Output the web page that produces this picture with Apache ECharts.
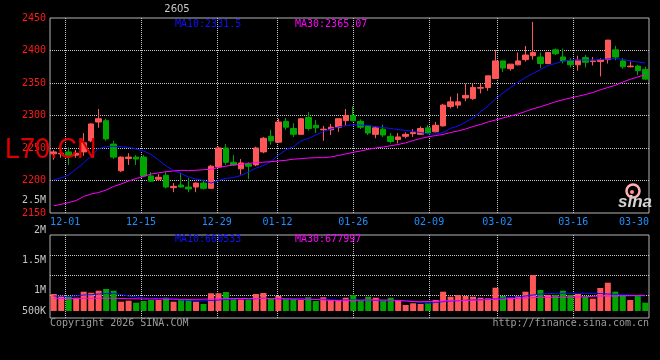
<!DOCTYPE html>
<html><head><meta charset="utf-8">
<script src="https://cdn.jsdelivr.net/npm/echarts@6/dist/echarts.min.js"></script>
<style>html,body{margin:0;padding:0;background:#000;}#c{width:660px;height:360px;}</style>
</head><body><div id="c"></div>
<script>
// ---- data ----
const dates = ['11-27','11-28',
 '12-01','12-02','12-03','12-04','12-05','12-08','12-09','12-10','12-11','12-12',
 '12-15','12-16','12-17','12-18','12-19','12-22','12-23','12-24','12-25','12-26',
 '12-29','12-30','12-31',
 '01-05','01-06','01-07','01-08','01-09','01-12','01-13','01-14','01-15','01-16',
 '01-19','01-20','01-21','01-22','01-23','01-26','01-27','01-28','01-29','01-30',
 '02-02','02-03','02-04','02-05','02-06','02-09','02-10','02-11','02-12','02-13',
 '02-24','02-25','02-26','02-27',
 '03-02','03-03','03-04','03-05','03-06','03-09','03-10','03-11','03-12','03-13',
 '03-16','03-17','03-18','03-19','03-20','03-23','03-24','03-25','03-26','03-27','03-30'];
const opens  = [2241,2241,2244,2239,2244,2261,2290,2292,2256,2215,2234,2236,2236,2207,2202,2208,2189,2193,2190,2190,2196,2188,2221,2250,2228,2218,2225,2224,2244,2268,2259,2291,2280,2271,2297,2285,2278,2278,2282,2292,2300,2291,2284,2271,2279,2268,2263,2268,2272,2271,2281,2275,2284,2314,2316,2327,2326,2342,2343,2357,2384,2372,2378,2386,2392,2390,2380,2401,2390,2384,2378,2389,2383,2383,2386,2401,2384,2375,2376,2371];
const closes = [2244,2242,2238,2242,2258,2287,2295,2264,2236,2236,2236,2233,2207,2199,2205,2190,2191,2190,2187,2196,2188,2222,2250,2228,2224,2227,2222,2250,2265,2261,2290,2282,2271,2295,2280,2281,2279,2282,2295,2300,2292,2282,2273,2281,2270,2260,2267,2271,2274,2280,2273,2285,2316,2321,2321,2331,2343,2343,2361,2384,2373,2379,2384,2393,2397,2380,2397,2395,2384,2378,2385,2382,2384,2386,2416,2390,2375,2376,2369,2356];
const lows   = [2232,2235,2224,2235,2238,2259,2281,2261,2233,2213,2224,2224,2206,2198,2199,2188,2182,2189,2182,2182,2186,2187,2219,2224,2223,2209,2202,2222,2242,2255,2258,2278,2267,2271,2277,2273,2261,2270,2275,2285,2291,2279,2270,2265,2267,2257,2257,2265,2267,2270,2272,2274,2283,2311,2311,2322,2324,2334,2338,2357,2367,2369,2377,2383,2386,2373,2379,2393,2380,2374,2369,2374,2377,2360,2380,2385,2372,2374,2362,2355];
const highs  = [2247,2251,2251,2247,2273,2288,2310,2295,2261,2237,2242,2239,2239,2213,2210,2213,2196,2212,2204,2197,2201,2224,2252,2256,2239,2233,2228,2252,2267,2278,2295,2296,2288,2296,2305,2293,2284,2287,2295,2310,2314,2294,2285,2283,2286,2273,2273,2274,2279,2283,2285,2290,2318,2329,2334,2349,2349,2349,2361,2401,2384,2379,2397,2407,2444,2397,2397,2403,2403,2388,2392,2393,2390,2388,2416,2407,2388,2383,2378,2375];
const ma10 = [2201,2204,2208.5,2217.7,2227,2238,2249,2252,2252.3,2252,2251,2248.5,2245.4,2240,2231.5,2222.3,2215.4,2210.8,2205.4,2202.3,2200,2196,2200,2203.4,2204.6,2207.7,2213,2219,2223,2229,2239,2247,2252,2260.8,2264.6,2270,2275.4,2279.2,2282.3,2284.6,2285.4,2285.4,2284.6,2282.8,2281.5,2280,2278.5,2276.9,2275.7,2273.8,2271.5,2271.5,2273.8,2280.3,2283.8,2290,2296.2,2305.4,2314.6,2325.4,2334.6,2343.1,2350.8,2358.5,2364.6,2370.8,2376.9,2380,2383.8,2385.4,2385.4,2385.4,2385.4,2386,2387,2388,2386,2384.3,2382.3,2380.8];
const ma30 = [2161,2163.4,2166.2,2169.2,2175.4,2179.2,2181.5,2185.4,2190.8,2194.6,2199.2,2203,2206.2,2210,2211.8,2213.5,2214.6,2215.7,2215.4,2215.7,2216.6,2217.2,2220,2222,2223.8,2224.9,2226.2,2227.4,2228.2,2228.9,2230,2231.1,2232.8,2233.5,2234.6,2235.1,2235.1,2236.2,2238.5,2240.8,2243.4,2245.4,2248,2250,2251.5,2253.5,2255.4,2258,2261.5,2264.6,2267.2,2269.2,2270.8,2273.8,2276.2,2279.2,2283.1,2286.2,2290,2293.1,2296.2,2299.2,2302.3,2306.2,2310.3,2313.4,2317.2,2321.1,2324.2,2326.9,2329.5,2332.3,2335.4,2339.5,2343.1,2346.4,2351.5,2355.7,2359.2,2363.1];
const volumes = [748000,660000,629000,585000,849000,805000,893000,968000,893000,409000,453000,365000,440000,484000,484000,585000,409000,528000,528000,409000,308000,779000,779000,836000,528000,515000,515000,748000,792000,528000,660000,528000,528000,484000,603000,440000,603000,484000,484000,585000,704000,453000,629000,585000,484000,585000,453000,264000,339000,308000,365000,484000,849000,629000,704000,660000,629000,585000,559000,1025000,660000,603000,660000,849000,1584000,924000,704000,704000,893000,704000,748000,629000,541000,1012000,1245000,849000,704000,484000,660000,365000];
const volMa10 = [660000,647000,638000,660000,704000,717000,748000,770000,779000,726000,660000,616000,572000,559000,559000,559000,528000,484000,462000,453000,440000,462000,484000,506000,528000,528000,528000,541000,559000,550000,541000,528000,528000,528000,519000,515000,519000,506000,484000,484000,484000,484000,475000,462000,453000,462000,475000,453000,418000,374000,339000,374000,409000,440000,453000,471000,484000,497000,515000,528000,559000,594000,629000,660000,704000,748000,761000,779000,779000,779000,779000,779000,779000,770000,748000,735000,717000,704000,673000,660000];
const volMa30 = [559000,550000,541000,550000,559000,559000,563000,563000,559000,550000,541000,537000,528000,528000,528000,528000,519000,519000,515000,515000,519000,528000,537000,541000,550000,550000,550000,550000,550000,546000,541000,537000,528000,528000,519000,506000,484000,462000,453000,453000,462000,475000,484000,484000,484000,475000,462000,440000,418000,409000,418000,431000,440000,449000,453000,462000,471000,484000,497000,515000,528000,541000,559000,572000,585000,603000,603000,603000,603000,607000,616000,629000,647000,660000,660000,660000,669000,673000,682000,691000];
const tickDates = ['12-01','12-15','12-29','01-12','01-26','02-09','03-02','03-16','03-30'];
const priceMin = 2150, priceMax = 2450, priceStep = 50;
const volLabelMin = 500000, volLabelMax = 2500000, volLabelStep = 500000;
const legendTexts = {ma10:'MA10:2331.5', ma30:'MA30:2365.07', vma10:'MA10:660533', vma30:'MA30:677997'};

// ---- styles ----
const UP = '#ff5757', DOWN = '#00a500';
const MONO = 'DejaVu Sans Mono';
const GRIDC = '#c8c8c8', BORDER = '#b4b4b4';
const dotted = {color: GRIDC, width: 1, type: [1, 1]};
const L = 50, R = 11;
const last = dates.length - 1;
const showLabel = (i) => tickDates.indexOf(dates[i]) >= 0;
const showLine = (i) => showLabel(i) && i !== last;
const volFmt = (v) => v >= 1000000 ? (v / 1000000) + 'M' : (v / 1000) + 'K';

const hiddenCat = (gi, bg) => ({type:'category', gridIndex:gi, data:dates, boundaryGap:bg, show:false});
const hiddenVal = (gi) => ({type:'value', gridIndex:gi, show:false, splitLine:{show:false}});

const chart = echarts.init(document.getElementById('c'));
chart.setOption({
  backgroundColor: '#000',
  animation: false,
  grid: [
    {left:L, right:R, top:18, height:195, show:true, borderColor:BORDER, borderWidth:1, backgroundColor:'transparent'},
    {left:L, right:R, top:235, height:83, show:true, borderColor:BORDER, borderWidth:1, backgroundColor:'transparent'},
    {left:L, right:R, top:235, height:80},
    {left:L, right:R, top:235, height:76},
    {left:L, right:R, top:200, height:120},
    {left:L, right:R, top:200, height:111}
  ],
  xAxis: [
    Object.assign(hiddenCat(0, true), {position:'top'}),
    {type:'category', gridIndex:0, data:dates, boundaryGap:false, position:'bottom',
     axisLine:{show:false, onZero:false}, axisTick:{show:false},
     axisLabel:{interval:showLabel, color:'#1e8fff', fontFamily:MONO, fontSize:10, margin:4, alignMaxLabel:'right'},
     splitLine:{show:true, interval:showLine, lineStyle:dotted}},
    {type:'category', gridIndex:1, data:dates, boundaryGap:false,
     axisLine:{show:false, onZero:false}, axisTick:{show:false}, axisLabel:{show:false},
     splitLine:{show:true, interval:showLine, lineStyle:dotted}},
    hiddenCat(2, false),
    hiddenCat(3, true),
    hiddenCat(4, false),
    hiddenCat(5, false)
  ],
  yAxis: [
    {type:'value', gridIndex:0, min:priceMin, max:priceMax, interval:priceStep,
     axisLine:{show:false}, axisTick:{show:false},
     axisLabel:{color:'#ff1a1a', fontFamily:MONO, fontSize:10, margin:4, showMinLabel:true, showMaxLabel:true,
       formatter:(v) => String(v)},
     splitLine:{show:true, lineStyle:dotted, showMinLine:false, showMaxLine:false}},
    hiddenVal(1),
    {type:'value', gridIndex:2, min:0, max:80, interval:20, inverse:true,
     axisLine:{show:false}, axisTick:{show:false}, axisLabel:{show:false},
     splitLine:{show:true, lineStyle:dotted, showMinLine:false, showMaxLine:false}},
    {type:'value', gridIndex:3, min:0, max:3344000, show:false, splitLine:{show:false}},
    {type:'value', gridIndex:4, min:volLabelMin, max:volLabelMax, interval:volLabelStep,
     axisLine:{show:false}, axisTick:{show:false}, splitLine:{show:false},
     axisLabel:{color:'#c4c4c4', fontFamily:MONO, fontSize:10, margin:4, showMinLabel:true, showMaxLabel:true,
       formatter:(v) => v === volLabelMin ? '' : volFmt(v)}},
    {type:'value', gridIndex:5, min:volLabelMin, max:volLabelMax, interval:volLabelStep,
     axisLine:{show:false}, axisTick:{show:false}, splitLine:{show:false},
     axisLabel:{color:'#c4c4c4', fontFamily:MONO, fontSize:10, margin:4, showMinLabel:true, showMaxLabel:false,
       formatter:(v) => v === volLabelMin ? volFmt(v) : ''}}
  ],
  series: [
    {type:'candlestick', xAxisIndex:0, yAxisIndex:0, barWidth:6,
     data: dates.map((d, i) => [opens[i], closes[i], lows[i], highs[i]]),
     itemStyle:{color:UP, color0:DOWN, borderColor:UP, borderColor0:DOWN, borderWidth:1}},
    {type:'line', xAxisIndex:0, yAxisIndex:0, data:ma10, showSymbol:false, z:5,
     lineStyle:{color:'#1010ff', width:1}},
    {type:'line', xAxisIndex:0, yAxisIndex:0, data:ma30, showSymbol:false, z:5,
     lineStyle:{color:'#ff00ff', width:1}},
    {type:'bar', xAxisIndex:4, yAxisIndex:3, barWidth:6,
     data: volumes.map((v, i) => ({value:v, itemStyle:{color: closes[i] >= opens[i] ? UP : DOWN}}))},
    {type:'line', xAxisIndex:4, yAxisIndex:3, data:volMa10, showSymbol:false, z:5,
     lineStyle:{color:'#1010ff', width:1}},
    {type:'line', xAxisIndex:4, yAxisIndex:3, data:volMa30, showSymbol:false, z:5,
     lineStyle:{color:'#ff00ff', width:1}}
  ],
  graphic: [
    {type:'text', x:177, y:9, z:50, style:{text:'2605', fill:'#c8c8c8', font:'10px "DejaVu Sans"', align:'center', verticalAlign:'middle'}},
    {type:'text', x:175, y:24, z:50, style:{text:legendTexts.ma10, fill:'#1010ff', font:'10px "DejaVu Sans Mono"', align:'left', verticalAlign:'middle'}},
    {type:'text', x:295, y:24, z:50, style:{text:legendTexts.ma30, fill:'#ff00ff', font:'10px "DejaVu Sans Mono"', align:'left', verticalAlign:'middle'}},
    {type:'text', x:175, y:239, z:50, style:{text:legendTexts.vma10, fill:'#1010ff', font:'10px "DejaVu Sans Mono"', align:'left', verticalAlign:'middle'}},
    {type:'text', x:295, y:239, z:50, style:{text:legendTexts.vma30, fill:'#ff00ff', font:'10px "DejaVu Sans Mono"', align:'left', verticalAlign:'middle'}},
    {type:'text', x:5, y:150, z:60, scaleX:0.9, style:{text:'L70.CN', fill:'#dd0000', font:'30px "Liberation Sans"', align:'left', verticalAlign:'middle'}},
    {type:'text', x:50, y:323, z:50, style:{text:'Copyright 2026 SINA.COM', fill:'#9c9c9c', font:'10px "DejaVu Sans Mono"', align:'left', verticalAlign:'middle'}},
    {type:'text', x:649, y:323, z:50, style:{text:'http://finance.sina.com.cn', fill:'#9c9c9c', font:'10px "DejaVu Sans Mono"', align:'right', verticalAlign:'middle'}},
    {type:'circle', z:50, shape:{cx:633, cy:191, r:6.5}, style:{fill:'none', stroke:'#ffb0b0', lineWidth:2.5}},
    {type:'circle', z:50, shape:{cx:632, cy:192, r:2}, style:{fill:'#ff9090'}},
    {type:'text', x:635, y:202, z:50, style:{text:'sina', fill:'#d4d4d4', font:'italic bold 17px "Liberation Sans"', align:'center', verticalAlign:'middle'}}
  ]
});
</script>
</body></html>
